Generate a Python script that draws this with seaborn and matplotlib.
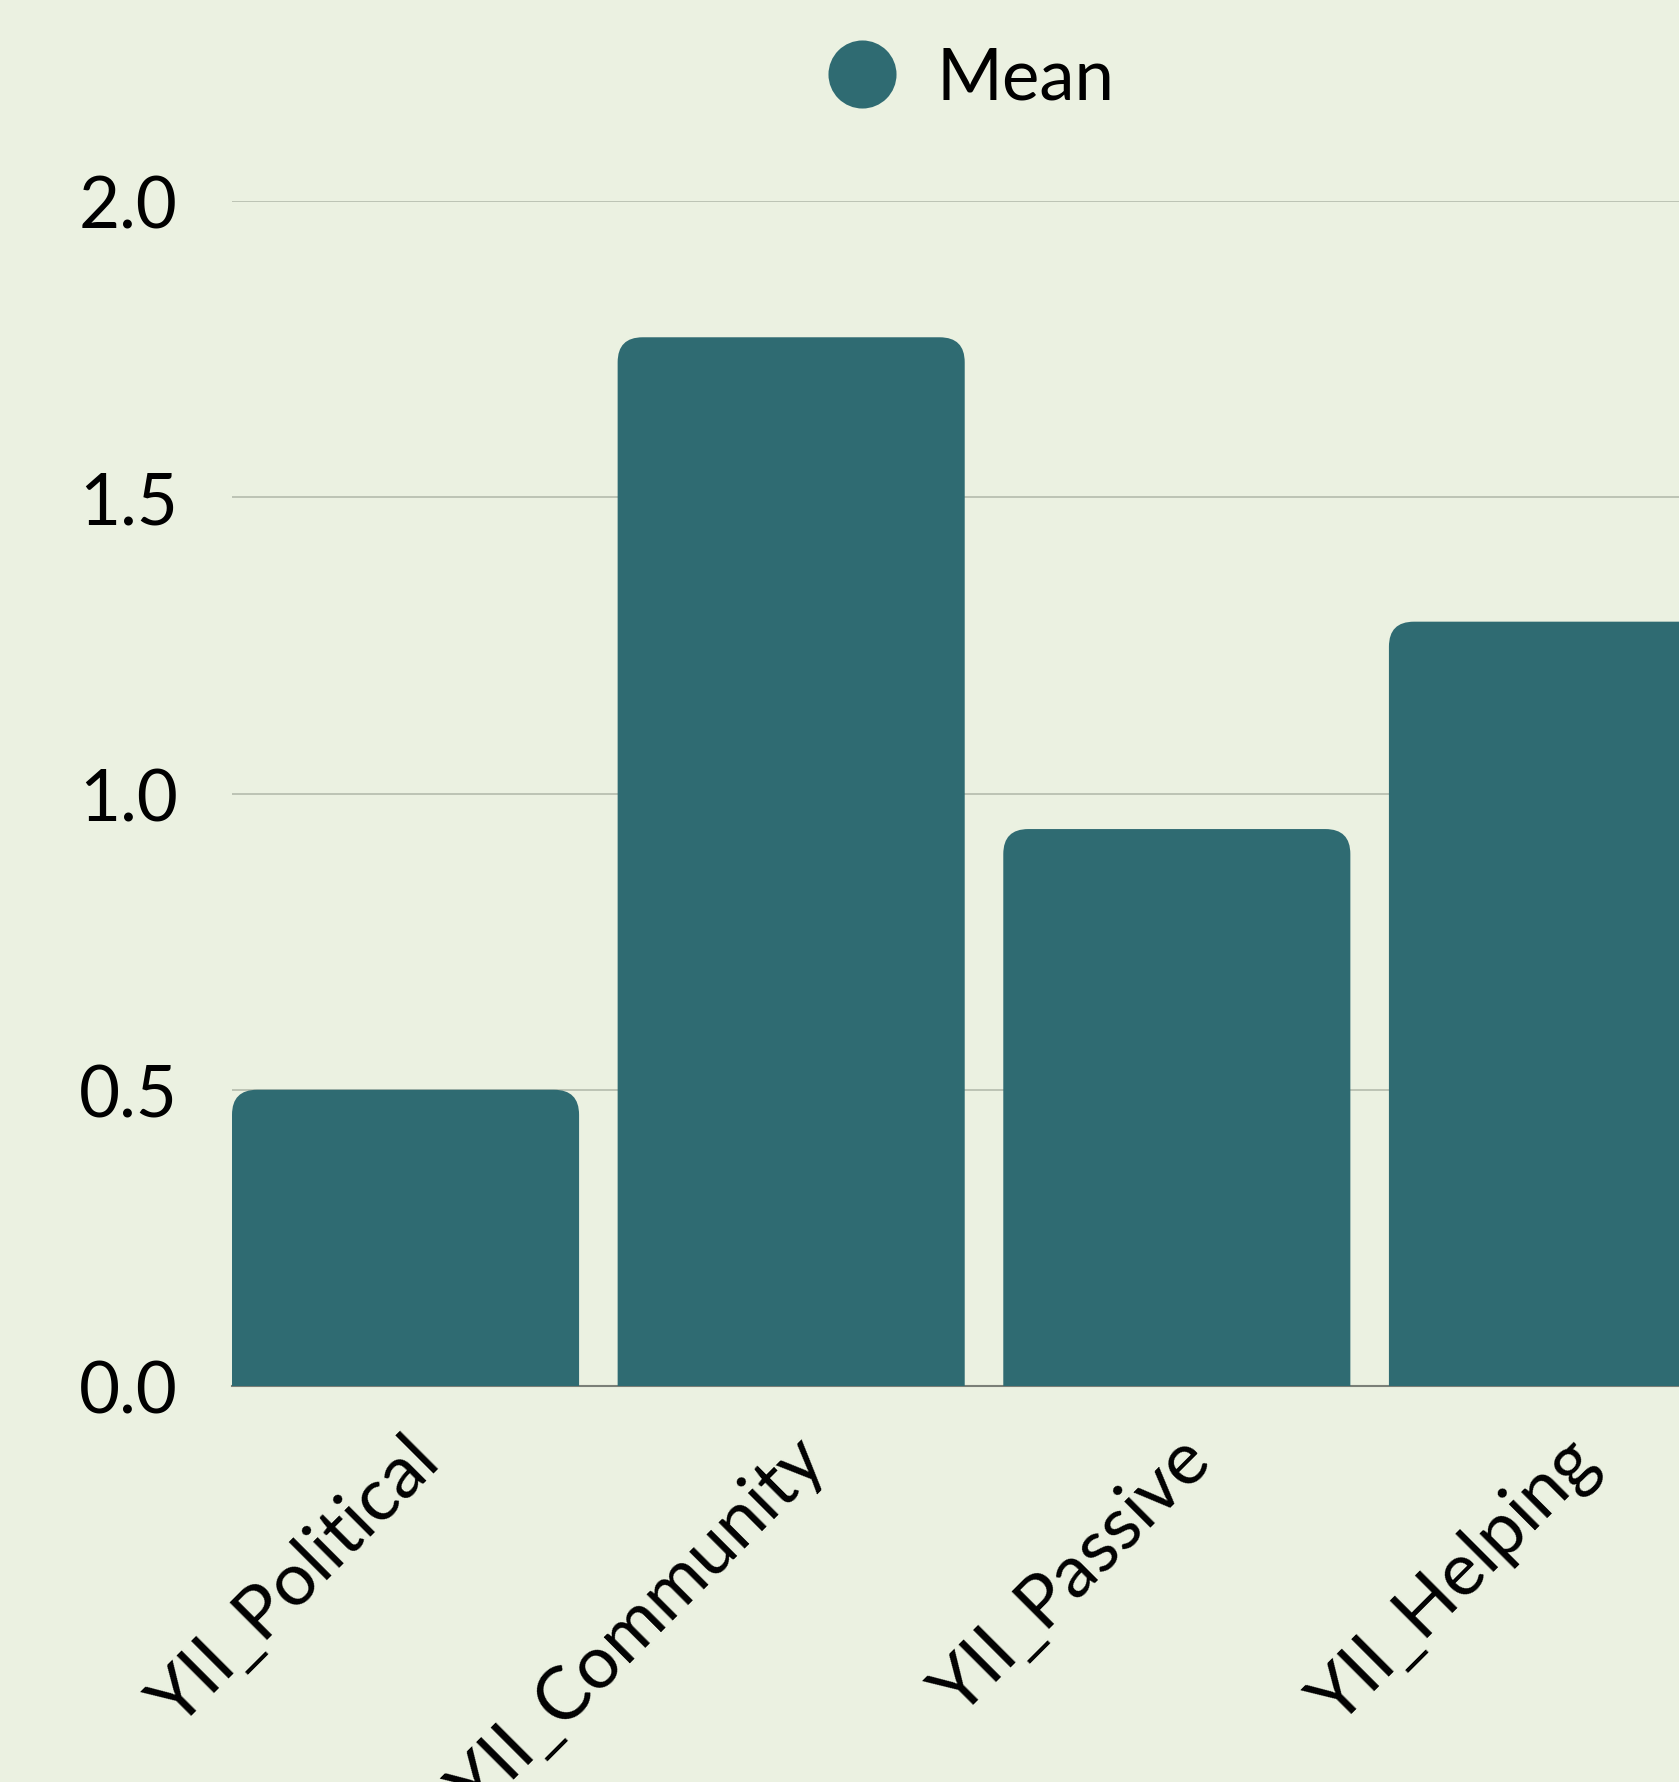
import pandas as pd
import seaborn as sns
import matplotlib.pyplot as plt
from matplotlib.patches import FancyBboxPatch
from matplotlib.lines import Line2D

# Data
categories = ["YII_Political", "YII_Community", "YII_Passive", "YII_Helping"]
means = [0.50, 1.77, 0.94, 1.29]
y_ticks = [0.0, 0.5, 1.0, 1.5, 2.0]

df = pd.DataFrame({"variable": categories, "Mean": means})

bg = "#ebf1e1"
bar_color = "#2f6b72"

sns.set_theme(style="white")
plt.rcParams["font.family"] = ["Lato", "DejaVu Sans"]

W, H = 1679, 1783
fig = plt.figure(figsize=(W / 100, H / 100), dpi=100, facecolor=bg)
# axes runs past the right edge of the figure, like the original
left, right, top, bottom = 232, 1736, 202, 1387
ax = fig.add_axes([left / W, 1 - bottom / H, (right - left) / W, (bottom - top) / H])
ax.set_facecolor(bg)

sns.barplot(data=df, x="variable", y="Mean", color=bar_color, width=0.9,
            saturation=1, ax=ax, zorder=3)

ax.set_xlim(-0.45, len(categories) - 0.55)
ax.set_ylim(0, 2.0)

# swap bars for round-topped ones (bottom corners fall below y=0 and get clipped)
px_x = (right - left) / (len(categories) - 0.1)
px_y = (bottom - top) / 2.0
r = 25 / px_x
aspect = px_x / px_y
for p in list(ax.patches):
    x0, w, h = p.get_x(), p.get_width(), p.get_height()
    p.remove()
    rb = FancyBboxPatch((x0, -0.1), w, h + 0.1,
                        boxstyle=f"round,pad=0,rounding_size={r}",
                        mutation_aspect=aspect, facecolor=bar_color,
                        edgecolor="none", zorder=3)
    ax.add_patch(rb)

# grid and axis line
ax.set_yticks(y_ticks)
ax.set_yticklabels([f"{v:.1f}" for v in y_ticks])
for v in y_ticks[1:]:
    ax.axhline(v, color="#b9c0b1", lw=1.3, zorder=1)
for s in ["top", "right", "left"]:
    ax.spines[s].set_visible(False)
ax.spines["bottom"].set_color("#7a7f77")
ax.spines["bottom"].set_linewidth(1.5)
ax.spines["bottom"].set_zorder(2)

ax.tick_params(axis="y", length=0, pad=39, labelsize=51, labelcolor="black")
ax.tick_params(axis="x", length=0, pad=28, labelsize=53, labelcolor="black")
ax.set_xlabel("")
ax.set_ylabel("")
for lbl in ax.get_xticklabels():
    lbl.set_rotation(45)
    lbl.set_ha("right")
    lbl.set_va("top")
    lbl.set_rotation_mode("anchor")

# legend
handle = Line2D([], [], marker="o", linestyle="none", markersize=49,
                markerfacecolor=bar_color, markeredgecolor="none")
leg = fig.legend([handle], ["Mean"], loc="center", bbox_to_anchor=(953 / W, 1 - 79 / H),
                 frameon=False, fontsize=51, handletextpad=0.05, borderpad=0)
for t in leg.get_texts():
    t.set_color("black")

fig.savefig("out.png", dpi=100, facecolor=bg)
